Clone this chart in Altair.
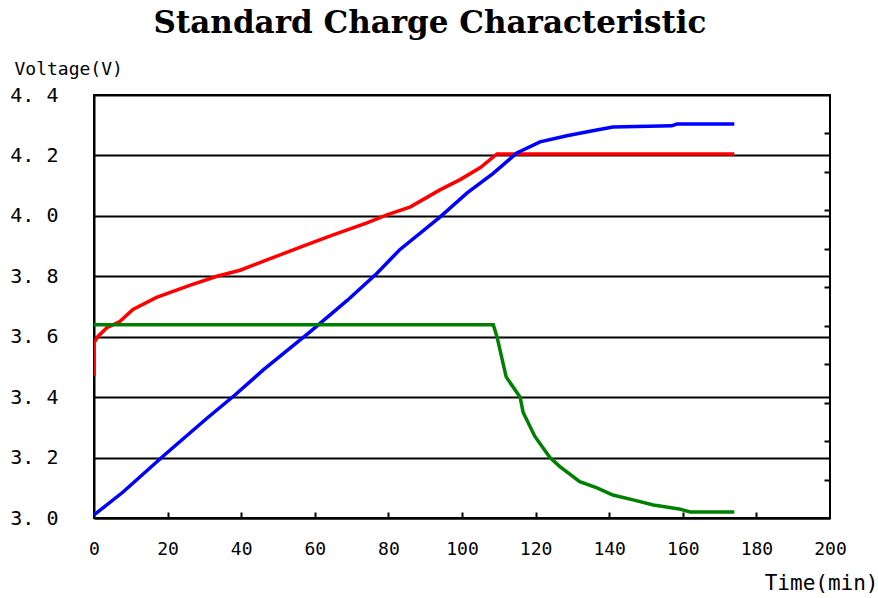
import altair as alt
import pandas as pd

# ---- data ----
voltage_t = [0, 0, 1, 3.5, 7, 10.6, 17, 26, 33.4, 39.7, 47, 56.8, 65, 74, 79.6, 86, 94, 99.5, 105, 109.5, 174]
voltage_v = [3.47, 3.58, 3.60, 3.63, 3.65, 3.69, 3.73, 3.77, 3.80, 3.82, 3.854, 3.90, 3.937, 3.976, 4.003, 4.03, 4.086, 4.12, 4.16, 4.205, 4.205]

capacity_t = [0, 7.9, 19.3, 30.7, 38.3, 46, 58.7, 68.8, 76.9, 83, 94, 101.4, 108.4, 114.9, 121.2, 128.5, 134.8, 141, 157, 158.4, 174]
capacity_v = [3.01, 3.086, 3.21, 3.33, 3.407, 3.49, 3.616, 3.72, 3.81, 3.887, 3.996, 4.076, 4.14, 4.208, 4.245, 4.265, 4.28, 4.294, 4.298, 4.304, 4.304]

current_t = [0, 108.5, 109.5, 112, 115.8, 116.6, 119.8, 123.9, 126.6, 132, 136.7, 141, 146.5, 152, 159, 162, 174]
current_v = [3.64, 3.64, 3.60, 3.467, 3.40, 3.35, 3.27, 3.20, 3.17, 3.12, 3.10, 3.076, 3.06, 3.043, 3.03, 3.02, 3.02]

series_names = ["Voltage", "Current", "Capacity"]
series_colors = ["#FF0000", "#008000", "#0000FF"]

x_domain = [0, 200]
x_ticks = [0, 20, 40, 60, 80, 100, 120, 140, 160, 180, 200]
x_inner_ticks = [20, 40, 60, 80, 100, 120, 140, 160, 180]
y_domain = [3.0, 4.4]
y_ticks = [3.0, 3.2, 3.4, 3.6, 3.8, 4.0, 4.2, 4.4]
right_domain = [0, 11]
right_ticks = [1, 2, 3, 4, 5, 6, 7, 8, 9, 10]

rows = []
for name, ts, vs in [("Voltage", voltage_t, voltage_v),
                     ("Capacity", capacity_t, capacity_v),
                     ("Current", current_t, current_v)]:
    for i, (t, v) in enumerate(zip(ts, vs)):
        rows.append({"series": name, "Time": t, "V": v, "idx": i})
df = pd.DataFrame(rows)

W, H = 736, 423

lines = alt.Chart(df).mark_line(strokeWidth=3.5, clip=True).encode(
    x=alt.X("Time:Q",
            scale=alt.Scale(domain=x_domain, nice=False, zero=False),
            axis=alt.Axis(values=x_ticks, ticks=False, grid=False,
                          domainColor="black", domainWidth=2,
                          labelFont="DejaVu Sans Mono", labelFontSize=18,
                          labelColor="black", labelPadding=22,
                          labelFlush=False,
                          title="Time(min)", titleFont="DejaVu Sans Mono",
                          titleFontSize=21, titleFontWeight="normal",
                          titleColor="black", titleAlign="right",
                          titleX=784, titleY=65, titleBaseline="middle")),
    y=alt.Y("V:Q",
            scale=alt.Scale(domain=y_domain, nice=False, zero=False),
            axis=alt.Axis(values=y_ticks, ticks=False, grid=True,
                          gridColor="black", gridWidth=2, gridOpacity=1,
                          domainColor="black", domainWidth=2,
                          labelExpr="replace(format(datum.value, '.1f'), '.', '. ')",
                          labelFont="DejaVu Sans Mono", labelFontSize=20,
                          labelColor="black", labelPadding=36,
                          labelFlush=False,
                          title="Voltage(V)", titleFont="DejaVu Sans Mono",
                          titleFontSize=18, titleFontWeight="normal",
                          titleColor="black", titleAngle=0, titleAlign="left",
                          titleBaseline="middle", titleX=-80, titleY=-26)),
    color=alt.Color("series:N",
                    scale=alt.Scale(domain=series_names, range=series_colors),
                    legend=None),
    order="idx:Q",
    detail="series:N",
)

frame_df = pd.DataFrame({"Time": x_domain, "R": right_domain})
inner_ticks = alt.Chart(frame_df).mark_point(opacity=0).encode(
    x=alt.X("Time:Q",
            scale=alt.Scale(domain=x_domain, nice=False, zero=False),
            axis=alt.Axis(orient="top", offset=-H, values=x_inner_ticks,
                          labels=False, domain=False, grid=False,
                          tickSize=6, tickWidth=2, tickColor="black", title=None)),
    y=alt.Y("R:Q",
            scale=alt.Scale(domain=right_domain, nice=False, zero=False),
            axis=alt.Axis(orient="left", offset=-W, values=right_ticks,
                          labels=False, domain=False, grid=False,
                          tickSize=6, tickWidth=2, tickColor="black", title=None)),
)

chart = alt.layer(lines, inner_ticks).resolve_scale(
    y="independent"
).resolve_axis(
    x="independent", y="independent"
).properties(
    width=W, height=H,
    padding={"left": 94, "top": 95, "right": 48, "bottom": 80},
    autosize=alt.AutoSizeParams(type="none"),
    background="white",
    title=alt.TitleParams(
        "Standard Charge Characteristic",
        font="DejaVu Serif", fontSize=31, fontWeight="bold", color="black",
        anchor="middle", frame="group", dx=-32, dy=4, offset=0,
        baseline="alphabetic"),
).configure_view(stroke="black", strokeWidth=2)

chart.save("out.html", embed_options={"renderer": "svg", "actions": False})
